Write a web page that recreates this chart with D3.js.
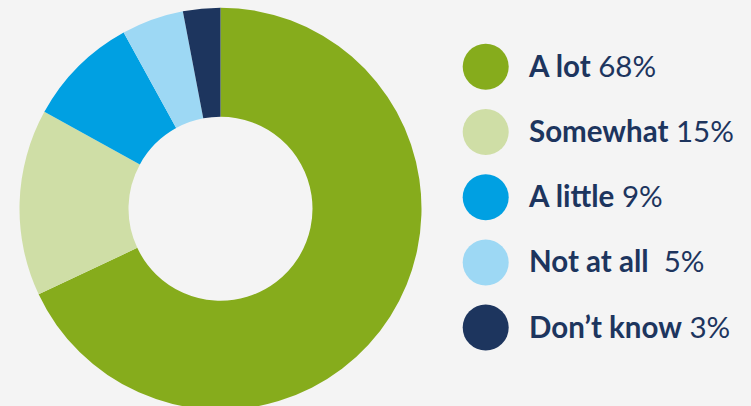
<!DOCTYPE html>
<html>
<head>
<meta charset="utf-8">
<script src="https://cdn.jsdelivr.net/npm/d3@7"></script>
<style>
  html, body { margin: 0; padding: 0; background: #f4f4f4; }
  svg { display: block; }
  text { white-space: pre; }
</style>
</head>
<body>
<svg id="chart" width="751" height="406"></svg>
<script>
// Survey responses, share of respondents
const categories = ["A lot", "Somewhat", "A little", "Not at all", "Don\u2019t know"];
const values = [68, 15, 9, 5, 3];
const valueLabels = ["68%", "15%", "9%", " 5%", "3%"];
const colors = ["#86ac1c", "#cfdea6", "#00a0e2", "#9dd8f4", "#1d355e"];

const W = 751, H = 406;
const svg = d3.select("#chart");
svg.append("rect").attr("width", W).attr("height", H).attr("fill", "#f4f4f4");

const cx = 220.5, cy = 208.7, outerR = 201, innerR = 92;

const data = categories.map((c, i) => ({ name: c, value: values[i], label: valueLabels[i], color: colors[i] }));

// Slices run clockwise from 12 o'clock, largest first
const pie = d3.pie().value(d => d.value).sort(null);
const arc = d3.arc().innerRadius(innerR).outerRadius(outerR);

svg.append("g")
  .attr("transform", `translate(${cx},${cy})`)
  .selectAll("path")
  .data(pie(data))
  .join("path")
  .attr("d", arc)
  .attr("fill", d => d.data.color);

// Legend
const textColor = "#1d355e";
const y = d3.scalePoint().domain(categories).range([66.8, 327.6]);
const legend = svg.append("g")
  .selectAll("g")
  .data(data)
  .join("g")
  .attr("transform", d => `translate(0,${y(d.name)})`);

legend.append("circle")
  .attr("cx", 485.7).attr("cy", 0).attr("r", 23)
  .attr("fill", d => d.color);

const t = legend.append("text")
  .attr("x", 529).attr("y", 10)
  .attr("font-family", "Lato, 'Noto Sans', sans-serif")
  .attr("font-size", 29.5)
  .attr("fill", textColor);
t.append("tspan").attr("font-weight", 700).text(d => d.name);
t.append("tspan").attr("font-weight", 400).text(d => " " + d.label);
</script>
</body>
</html>
